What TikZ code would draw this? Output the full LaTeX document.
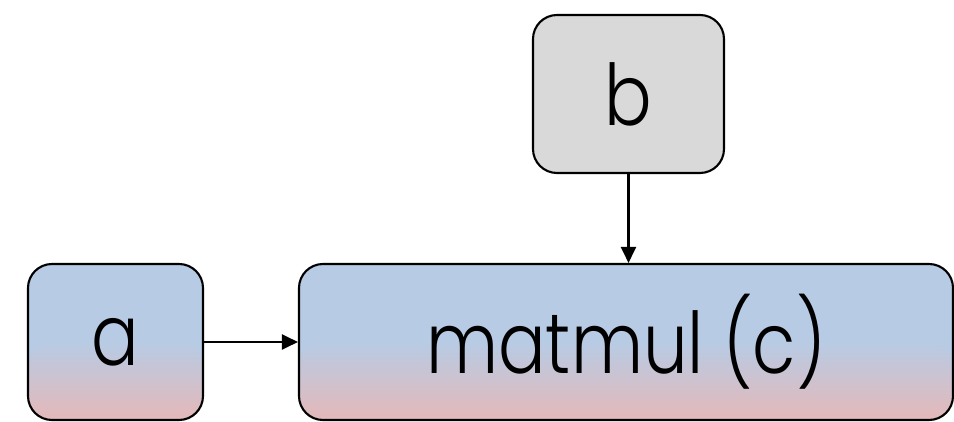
\documentclass[tikz,border=0pt]{standalone}
\usepackage{fontspec}
\setmainfont{Poppins Light}
\usetikzlibrary{arrows.meta}
\definecolor{cblue}{HTML}{B7CBE4}
\definecolor{cpink}{HTML}{E5B8B9}
\definecolor{cgray}{HTML}{D9D9D9}
\newcommand{\narrowtext}[1]{\scalebox{0.83}[1]{#1}}
\tikzset{
  box/.style={draw=black, line width=2.1pt, rounded corners=24pt, inner sep=0pt,
    font=\fontsize{85}{85}\selectfont},
  grad/.style={box, path picture={
    \fill[cblue] (path picture bounding box.north west) rectangle (path picture bounding box.south east);
    \shade[top color=cblue, bottom color=cpink] (path picture bounding box.west) rectangle (path picture bounding box.south east);}},
  link/.style={line width=2.2pt, -{Triangle[length=16pt,width=15pt]}}
}
\begin{document}
\begin{tikzpicture}[x=1pt,y=1pt]
\useasboundingbox (0,0) rectangle (954,421);
\node[box, fill=cgray, minimum width=191pt, minimum height=158pt] (b) at (628.5,327) {\narrowtext{b}};
\node[grad, minimum width=175pt, minimum height=156pt] (a) at (115.5,79) {\narrowtext{a}};
\node[grad, minimum width=654pt, minimum height=156pt] (c) at (626,79) {\narrowtext{matmul (c)}};
\draw[link] (a) -- (c);
\draw[link] (b.south) -- (b.south |- c.north);
\end{tikzpicture}
\end{document}
